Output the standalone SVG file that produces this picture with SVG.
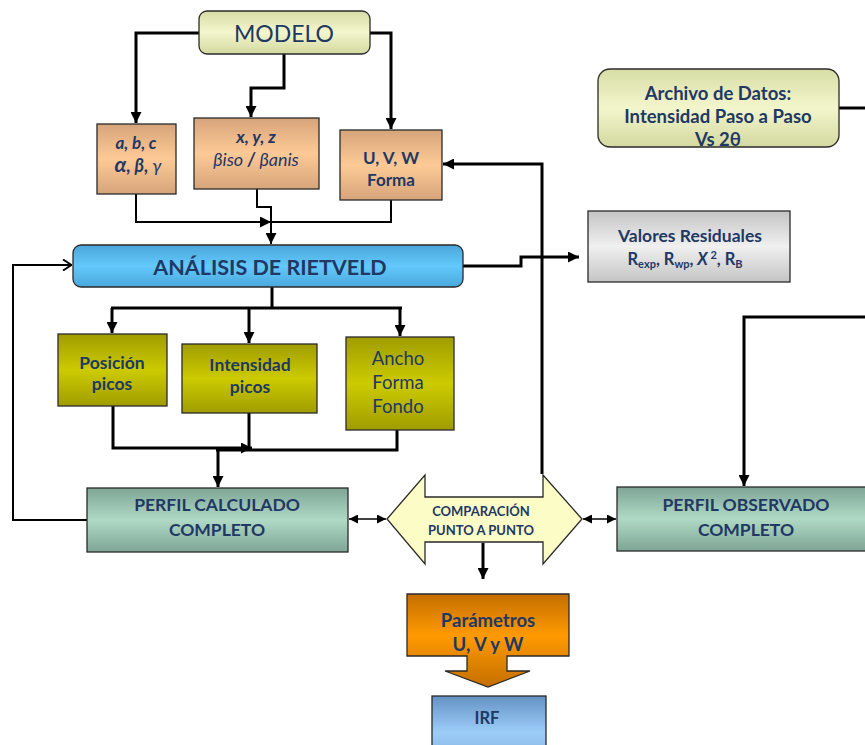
<svg xmlns="http://www.w3.org/2000/svg" width="865" height="745" viewBox="0 0 865 745">
  <defs>
    <style>
      text { font-family: Lato, "Open Sans", "Liberation Sans", sans-serif; fill: #1f3864; text-anchor: middle; }
      .b { font-weight: bold; }
      .box { stroke: #2a2a2a; stroke-width: 1.3; }
      .wire { fill: none; stroke: #000; stroke-width: 3; }
      .thin { fill: none; stroke: #000; stroke-width: 2; }
      .dbl { fill: none; stroke: #000; stroke-width: 1.4; }
    </style>
    <linearGradient id="gModelo" x1="0" y1="0" x2="0" y2="1">
      <stop offset="0" stop-color="#d7dda6"/>
      <stop offset="0.5" stop-color="#f3f6cc"/>
      <stop offset="1" stop-color="#d3d9a0"/>
    </linearGradient>
    <linearGradient id="gTan" x1="0" y1="0" x2="0" y2="1">
      <stop offset="0" stop-color="#d6a47a"/>
      <stop offset="0.5" stop-color="#fdca96"/>
      <stop offset="1" stop-color="#d6a47a"/>
    </linearGradient>
    <linearGradient id="gBlue" x1="0" y1="0" x2="0" y2="1">
      <stop offset="0" stop-color="#4aa6da"/>
      <stop offset="0.5" stop-color="#63c8fb"/>
      <stop offset="1" stop-color="#4aa8dc"/>
    </linearGradient>
    <linearGradient id="gOlive" x1="0" y1="0" x2="0" y2="1">
      <stop offset="0" stop-color="#a09c00"/>
      <stop offset="0.5" stop-color="#cccb00"/>
      <stop offset="1" stop-color="#a09c00"/>
    </linearGradient>
    <linearGradient id="gTeal" x1="0" y1="0" x2="0" y2="1">
      <stop offset="0" stop-color="#7ea595"/>
      <stop offset="0.5" stop-color="#b0d9c5"/>
      <stop offset="1" stop-color="#7ea595"/>
    </linearGradient>
    <linearGradient id="gGray" x1="0" y1="0" x2="0" y2="1">
      <stop offset="0" stop-color="#c4c4c4"/>
      <stop offset="0.5" stop-color="#f0f0f0"/>
      <stop offset="1" stop-color="#c4c4c4"/>
    </linearGradient>
    <linearGradient id="gOrange" x1="0" y1="0" x2="0" y2="1">
      <stop offset="0" stop-color="#c46e00"/>
      <stop offset="0.45" stop-color="#ff9a00"/>
      <stop offset="1" stop-color="#c46e00"/>
    </linearGradient>
    <linearGradient id="gIrf" x1="0" y1="0" x2="0" y2="1">
      <stop offset="0" stop-color="#6592c4"/>
      <stop offset="0.6" stop-color="#9cccf8"/>
      <stop offset="1" stop-color="#8ab8e6"/>
    </linearGradient>
    <marker id="ah" viewBox="0 0 10 10" refX="10" refY="5" markerWidth="11" markerHeight="11" markerUnits="userSpaceOnUse" orient="auto">
      <path d="M0,0 L10,5 L0,10 z" fill="#000"/>
    </marker>
    <marker id="ahs" viewBox="0 0 10 10" refX="10" refY="5" markerWidth="9" markerHeight="9" markerUnits="userSpaceOnUse" orient="auto-start-reverse">
      <path d="M0,0 L10,5 L0,10 z" fill="#000"/>
    </marker>
    <marker id="aho" viewBox="0 0 10 12" refX="10" refY="6" markerWidth="10" markerHeight="12" markerUnits="userSpaceOnUse" orient="auto">
      <path d="M1,0.5 L9.5,6 L1,11.5" fill="none" stroke="#000" stroke-width="2"/>
    </marker>
  </defs>

  <!-- connectors -->
  <g id="connectors">
    <!-- MODELO to the three parameter boxes -->
    <path class="wire" d="M199,33 H136 V123" marker-end="url(#ah)"/>
    <path class="wire" d="M284,54 V88 H251 V117" marker-end="url(#ah)"/>
    <path class="wire" d="M370,33 H391 V129" marker-end="url(#ah)"/>
    <!-- parameter boxes into Rietveld analysis -->
    <path class="thin" d="M136,194 V222 H271" marker-end="url(#ah)"/>
    <path class="thin" d="M391,200 V222 H271"/>
    <path class="thin" d="M257,189 V207 H271 V244" marker-end="url(#ah)"/>
    <!-- residuals output -->
    <path class="wire" d="M463,266 H521 V257 H579" marker-end="url(#ah)"/>
    <!-- feedback to U,V,W -->
    <path class="wire" d="M542,474 V164 H443" marker-end="url(#ah)"/>
    <!-- Rietveld analysis to peak boxes -->
    <path class="wire" d="M272,287 V308"/>
    <path class="wire" d="M111,308 H402"/>
    <path class="wire" d="M112,308 V333" marker-end="url(#ah)"/>
    <path class="wire" d="M249,308 V343" marker-end="url(#ah)"/>
    <path class="wire" d="M400,308 V336" marker-end="url(#ah)"/>
    <!-- peak boxes to calculated profile -->
    <path class="wire" d="M113,406 V448 H252" marker-end="url(#ah)"/>
    <path class="wire" d="M249,413 V450"/>
    <path class="wire" d="M397,426 V450 H216"/>
    <path class="wire" d="M218,450 V487" marker-end="url(#ah)"/>
    <!-- calculated profile loop back to analysis -->
    <path class="thin" d="M87,520 H13 V265 H72" marker-end="url(#aho)"/>
    <!-- comparison links -->
    <path class="dbl" d="M349,519 H386" marker-start="url(#ahs)" marker-end="url(#ahs)"/>
    <path class="dbl" d="M583,519 H616" marker-start="url(#ahs)" marker-end="url(#ahs)"/>
    <!-- data file to observed profile -->
    <path class="wire" d="M839,108 H865"/>
    <path class="wire" d="M865,317 H744 V486" marker-end="url(#ah)"/>
    <!-- comparison to U,V,W parameters -->
    <path class="wire" d="M483,543 V579" marker-end="url(#ah)"/>
  </g>

  <g id="modelo">
    <rect class="box" x="199" y="11" width="171" height="43" rx="8" fill="url(#gModelo)"/>
    <text x="284" y="42" font-size="23">MODELO</text>
  </g>

  <g id="celda">
    <rect class="box" x="97" y="124" width="79" height="70" fill="url(#gTan)"/>
    <text class="b" x="136" y="149" font-size="17" font-style="italic">a, b,  c</text>
    <text x="138" y="172" font-size="18" font-style="italic"><tspan font-weight="bold" font-size="21">α</tspan><tspan font-weight="bold">, β, </tspan><tspan>γ</tspan></text>
  </g>

  <g id="atomos">
    <rect class="box" x="194" y="118" width="125" height="71" fill="url(#gTan)"/>
    <text class="b" x="256" y="143" font-size="17.5" font-style="italic">x, y, z</text>
    <text x="256" y="166" font-size="18" font-style="italic">βiso <tspan font-weight="bold">/</tspan> βanis</text>
  </g>

  <g id="uvw">
    <rect class="box" x="340" y="130" width="102" height="70" fill="url(#gTan)"/>
    <text class="b" x="391" y="164" font-size="17">U, V, W</text>
    <text class="b" x="391" y="186" font-size="17">Forma</text>
  </g>

  <g id="archivo">
    <rect class="box" x="598" y="69" width="241" height="78" rx="12" fill="url(#gModelo)"/>
    <text class="b" x="718" y="100" font-size="18.5">Archivo de Datos:</text>
    <text class="b" x="718" y="123" font-size="18.5">Intensidad Paso a Paso</text>
    <text class="b" x="718" y="146" font-size="18.5">Vs 2θ</text>
  </g>

  <g id="rietveld">
    <rect class="box" x="73" y="245" width="390" height="42" rx="8" fill="url(#gBlue)"/>
    <text class="b" x="270" y="275" font-size="21.5">ANÁLISIS DE RIETVELD</text>
  </g>

  <g id="residuales">
    <rect class="box" x="588" y="211" width="202" height="71" fill="url(#gGray)"/>
    <text class="b" x="690" y="242" font-size="17.5">Valores Residuales</text>
    <text class="b" x="685" y="265" font-size="16.5">R<tspan font-size="11" dy="3">exp</tspan><tspan dy="-3">, R</tspan><tspan font-size="11" dy="3">wp</tspan><tspan dy="-3">, </tspan><tspan font-style="italic">X</tspan><tspan font-size="11" dy="-6"> 2</tspan><tspan dy="6">, R</tspan><tspan font-size="11" dy="3">B</tspan></text>
  </g>

  <g id="posicion">
    <rect class="box" x="58" y="334" width="109" height="72" fill="url(#gOlive)"/>
    <text class="b" x="112" y="369" font-size="17.5">Posición</text>
    <text class="b" x="112" y="390" font-size="17.5">picos</text>
  </g>

  <g id="intensidad">
    <rect class="box" x="182" y="344" width="135" height="69" fill="url(#gOlive)"/>
    <text class="b" x="250" y="371" font-size="17.5">Intensidad</text>
    <text class="b" x="250" y="393" font-size="17.5">picos</text>
  </g>

  <g id="ancho">
    <rect class="box" x="346" y="337" width="108" height="93" fill="url(#gOlive)"/>
    <text x="398" y="365" font-size="18.5">Ancho</text>
    <text x="398" y="389" font-size="18.5">Forma</text>
    <text x="398" y="413" font-size="18.5">Fondo</text>
  </g>

  <g id="calculado">
    <rect class="box" x="87" y="488" width="261" height="64" fill="url(#gTeal)"/>
    <text class="b" x="217" y="511" font-size="17.5">PERFIL CALCULADO</text>
    <text class="b" x="217" y="536" font-size="17.5">COMPLETO</text>
  </g>

  <g id="comparacion">
    <path class="box" d="M387,519 L425,475 V497 H543 V475 L582,519 L543,564 V542 H425 V564 Z" fill="#fcfcc6"/>
    <text class="b" x="481" y="516" font-size="13">COMPARACIÓN</text>
    <text class="b" x="481" y="535" font-size="13">PUNTO A PUNTO</text>
  </g>

  <g id="observado">
    <rect class="box" x="617" y="487" width="260" height="64" fill="url(#gTeal)"/>
    <text class="b" x="746" y="511" font-size="17.5">PERFIL OBSERVADO</text>
    <text class="b" x="746" y="536" font-size="17.5">COMPLETO</text>
  </g>

  <g id="parametros">
    <path class="box" d="M407,594 H569 V656 H507 V671 H530 L488,687 L445,671 H467 V656 H407 Z" fill="url(#gOrange)"/>
    <text class="b" x="488" y="627" font-size="18.5">Parámetros</text>
    <text class="b" x="488" y="651" font-size="18.5">U, V y W</text>
  </g>

  <g id="irf">
    <rect class="box" x="432" y="696" width="114" height="60" fill="url(#gIrf)"/>
    <text class="b" x="487" y="724" font-size="16.5">IRF</text>
  </g>
</svg>
